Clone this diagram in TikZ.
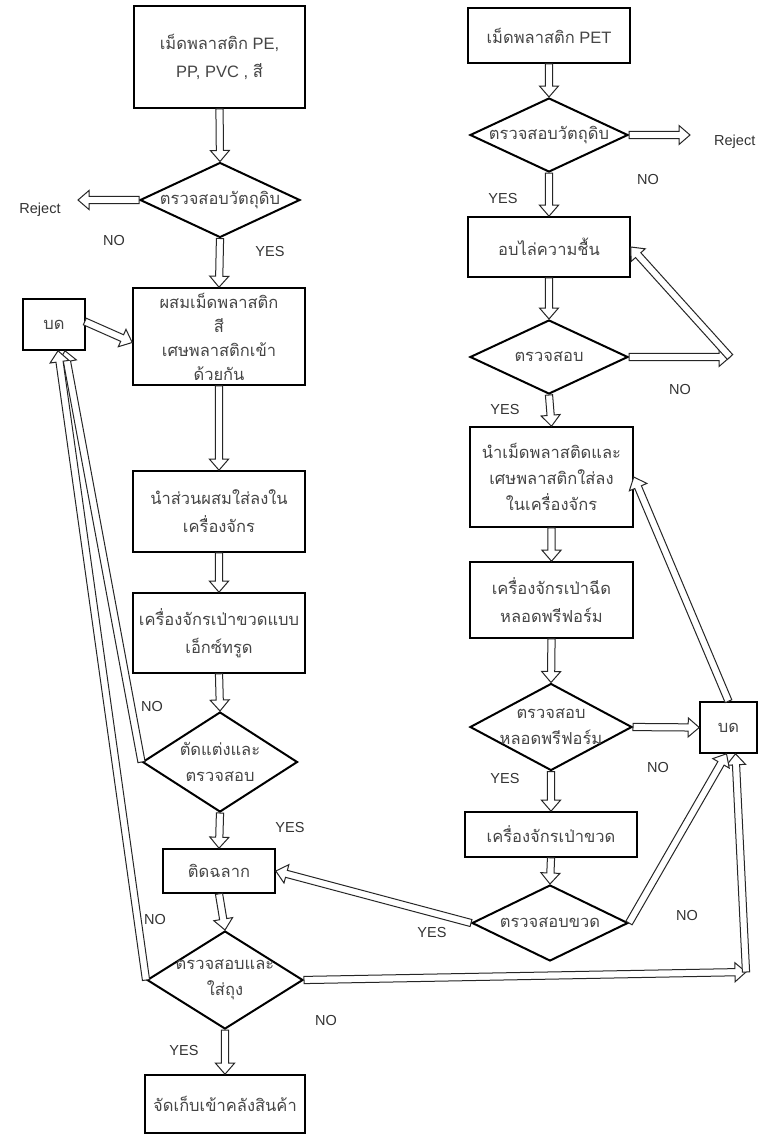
\documentclass[tikz,border=0pt]{standalone}
\usepackage{fontspec}
\setmainfont{Liberation Sans}
\newfontfamily\thaifont[Script=Thai]{Loma}
\usetikzlibrary{shapes.geometric,calc}
\definecolor{txtc}{HTML}{454545}
\newcommand{\tht}[1]{{\thaifont #1}}
\def\ash{3.6pt}
\def\ahw{9.5pt}
\def\ahl{11pt}
\newcommand{\flowarrow}[2]{%
  \coordinate (aS) at (#1);
  \coordinate (aT) at (#2);
  \coordinate (aN) at ($(aT)!\ahl!(aS)$);
  \filldraw[arr] ($(aS)!\ash!90:(aT)$) -- ($(aN)!\ash!90:(aT)$) -- ($(aN)!\ahw!90:(aT)$) -- (aT)
     -- ($(aN)!\ahw!-90:(aT)$) -- ($(aN)!\ash!-90:(aT)$) -- ($(aS)!\ash!-90:(aT)$) -- cycle;
}
\tikzset{
  box/.style={draw=black, line width=1.6pt, fill=white, inner sep=0pt, align=center, text=txtc, font=\fontsize{16.5}{28}\selectfont},
  dia/.style={diamond, draw=black, line width=2pt, fill=white, inner sep=0pt},
  dtext/.style={align=center, text=txtc, font=\fontsize{16.5}{26}\selectfont, inner sep=0pt},
  lab/.style={font=\fontsize{14.5}{16}\selectfont, text=black!80, inner sep=0pt},
  arr/.style={draw=black!85, line width=1pt, fill=white, line join=miter},
}
\begin{document}
\begin{tikzpicture}[x=1pt,y=-1pt]
\fill[white] (0,0) rectangle (759,1135);
\useasboundingbox (0,0) rectangle (759,1135);

% ---------- left column ----------
\node[box, minimum width=171pt, minimum height=102pt] (b1) at (219.5,57) {\tht{เม็ดพลาสติก} PE,\\PP, PVC , \tht{สี}};
\node[dia, minimum width=160pt, minimum height=75pt] (d1) at (220,200) {};
\node[dtext] (d1t) at (d1.center) {\tht{ตรวจสอบวัตถุดิบ}};
\node[box, font=\fontsize{16.5}{24}\selectfont, minimum width=172pt, minimum height=97pt] (b2) at (219,336.5) {\tht{ผสมเม็ดพลาสติก}\\\tht{สี}\\\tht{เศษพลาสติกเข้า}\\\tht{ด้วยกัน}};
\node[box, minimum width=62pt, minimum height=51pt] (bdL) at (54,324.5) {\tht{บด}};
\node[box, minimum width=172pt, minimum height=81pt] (b3) at (219,511.5) {\tht{นำส่วนผสมใส่ลงใน}\\\tht{เครื่องจักร}};
\node[box, minimum width=172pt, minimum height=80pt] (b4) at (219,633) {\tht{เครื่องจักรเป่าขวดแบบ}\\\tht{เอ็กซ์ทรูด}};
\node[dia, minimum width=155pt, minimum height=100pt] (d2) at (220,762) {};
\node[dtext] (d2t) at (d2.center) {\tht{ตัดแต่งและ}\\\tht{ตรวจสอบ}};
\node[box, minimum width=112pt, minimum height=44pt] (b5) at (219,871) {\tht{ติดฉลาก}};
\node[dia, minimum width=156pt, minimum height=98pt] (d3) at (225,980) {};
\node[dtext] (d3t) at (d3.center) {\tht{ตรวจสอบและ}\\\tht{ใส่ถุง}};
\node[box, minimum width=160pt, minimum height=58pt] (b6) at (225,1104) {\tht{จัดเก็บเข้าคลังสินค้า}};

% ---------- right column ----------
\node[box, minimum width=162pt, minimum height=55pt] (bR1) at (549,35.5) {\tht{เม็ดพลาสติก} PET};
\node[dia, minimum width=158pt, minimum height=74pt] (dR1) at (549,135) {};
\node[dtext] (dR1t) at (dR1.center) {\tht{ตรวจสอบวัตถุดิบ}};
\node[box, minimum width=162pt, minimum height=60pt] (bR2) at (549,247) {\tht{อบไล่ความชื้น}};
\node[dia, minimum width=158pt, minimum height=74pt] (dR2) at (549,357) {};
\node[dtext] (dR2t) at (dR2.center) {\tht{ตรวจสอบ}};
\node[box, font=\fontsize{16.5}{26}\selectfont, minimum width=163pt, minimum height=100pt] (bR3) at (551.5,477) {\tht{นำเม็ดพลาสติดและ}\\\tht{เศษพลาสติกใส่ลง}\\\tht{ในเครื่องจักร}};
\node[box, minimum width=163pt, minimum height=76pt] (bR4) at (551.5,600) {\tht{เครื่องจักรเป่าฉีด}\\\tht{หลอดพรีฟอร์ม}};
\node[dia, minimum width=162pt, minimum height=87pt] (dR3) at (551,727) {};
\node[dtext] (dR3t) at (dR3.center) {\tht{ตรวจสอบ}\\\tht{หลอดพรีฟอร์ม}};
\node[box, minimum width=57pt, minimum height=51pt] (bdR) at (728.5,727.5) {\tht{บด}};
\node[box, minimum width=172pt, minimum height=45pt] (bR5) at (551,834.5) {\tht{เครื่องจักรเป่าขวด}};
\node[dia, minimum width=156pt, minimum height=76pt] (dR4) at (550,923) {};
\node[dtext] (dR4t) at (dR4.center) {\tht{ตรวจสอบขวด}};

% ---------- free ends ----------
\coordinate (rejL) at (78,200);
\coordinate (rejR) at (690,135);
\coordinate (cR2) at (730,357);
\coordinate (cR) at (746,972);

% ---------- arrows ----------
\flowarrow{b1.south}{d1.north}
\flowarrow{d1.west}{rejL}
\flowarrow{d1.south}{b2.north}
\flowarrow{$(bdL.east)+(-1,-3)$}{$(b2.west)+(0,6)$}
\flowarrow{b2.south}{b3.north}
\flowarrow{b3.south}{b4.north}
\flowarrow{b4.south}{d2.north}
\flowarrow{d2.west}{$(bdL.south)+(11,0)$}
\flowarrow{d2.south}{b5.north}
\flowarrow{b5.south}{d3.north}
\flowarrow{d3.west}{$(bdL.south)+(4,0)$}
\flowarrow{d3.south}{b6.north}
\flowarrow{d3.east}{cR}
\flowarrow{cR}{$(bdR.south)+(7,0)$}

\flowarrow{bR1.south}{dR1.north}
\flowarrow{dR1.east}{rejR}
\flowarrow{dR1.south}{bR2.north}
\flowarrow{bR2.south}{dR2.north}
\flowarrow{dR2.east}{cR2}
\flowarrow{cR2}{bR2.east}
\flowarrow{dR2.south}{bR3.north}
\flowarrow{bR3.south}{bR4.north}
\flowarrow{bR4.south}{dR3.north}
\flowarrow{dR3.east}{bdR.west}
\flowarrow{bdR.north}{bR3.east}
\flowarrow{dR3.south}{bR5.north}
\flowarrow{bR5.south}{dR4.north}
\flowarrow{dR4.west}{b5.east}
\flowarrow{dR4.east}{$(bdR.south)+(-2,0)$}

% ---------- labels ----------
\node[lab] (l1) at (40,210) {Reject};
\node[lab] (l2) at (114,241) {NO};
\node[lab] (l3) at (270,252) {YES};
\node[lab] (l4) at (152,706) {NO};
\node[lab] (l5) at (290,827) {YES};
\node[lab] (l6) at (155,919) {NO};
\node[lab] (l7) at (326,1020) {NO};
\node[lab] (l8) at (184,1050) {YES};
\node[lab, anchor=west] (l9) at (714,142) {Reject};
\node[lab] (l10) at (648,180) {NO};
\node[lab] (l11) at (503,199) {YES};
\node[lab] (l12) at (680,390) {NO};
\node[lab] (l13) at (505,410) {YES};
\node[lab] (l14) at (658,767) {NO};
\node[lab] (l15) at (505,778) {YES};
\node[lab] (l16) at (432,932) {YES};
\node[lab] (l17) at (687,915) {NO};
\end{tikzpicture}
\end{document}
